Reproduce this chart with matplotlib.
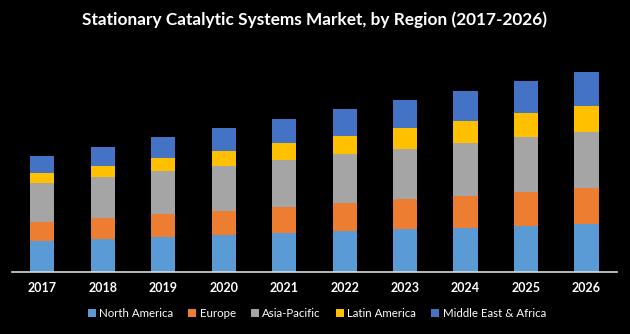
import matplotlib
matplotlib.use("Agg")
import matplotlib.pyplot as plt
import numpy as np

years = ['2017', '2018', '2019', '2020', '2021', '2022', '2023', '2024', '2025', '2026']
regions = ['North America', 'Europe', 'Asia-Pacific', 'Latin America', 'Middle East & Africa']
colors = ['#5B9BD5', '#ED7D31', '#A5A5A5', '#FFC000', '#4472C4']

# estimated segment heights
north_america = [31, 33, 35, 37, 39, 41, 43, 44.3, 46.3, 48.3]
europe = [19.3, 21, 23.3, 24, 26, 28, 30, 31.7, 33.7, 35.7]
asia_pacific = [38.7, 41, 42.7, 45, 47, 49, 50, 53, 55, 56]
latin_america = [10, 11, 13, 15, 17, 18, 21, 22, 24, 26]
middle_east_africa = [17, 19, 21, 23, 24, 27, 28, 30, 32, 34]

series = [north_america, europe, asia_pacific, latin_america, middle_east_africa]

plt.rcParams['font.family'] = ['Lato', 'DejaVu Sans']

fig = plt.figure(figsize=(6.3, 3.34), dpi=100, facecolor='black')
ax = fig.add_axes([0.019, 0.1856, 0.96, 0.635], facecolor='black')

x = np.arange(len(years))
bottom = np.zeros(len(years))
for name, vals, c in zip(regions, series, colors):
    ax.bar(x, vals, width=0.4, bottom=bottom, color=c, label=name, zorder=2)
    bottom += np.array(vals)

ax.set_xlim(-0.5, len(years) - 0.5)
ax.set_ylim(0, 212)
ax.set_yticks([])
ax.set_xticks(x)
ax.set_xticklabels(years, color='white', fontsize=9, fontweight='bold')
ax.tick_params(axis='x', length=0, pad=7)
for s in ['top', 'right', 'left']:
    ax.spines[s].set_visible(False)
ax.spines['bottom'].set_color('#D9D9D9')
ax.spines['bottom'].set_linewidth(1.2)

fig.suptitle('Stationary Catalytic Systems Market, by Region (2017-2026)',
             color='white', fontsize=12.4, fontweight='bold', y=0.965)

leg = fig.legend(loc='center', bbox_to_anchor=(0.503, 0.062), ncol=5, frameon=False,
                 fontsize=8.3, handlelength=0.7, handleheight=0.7, handletextpad=0.3,
                 columnspacing=1.3)
for t in leg.get_texts():
    t.set_color('white')

fig.savefig('out.png', dpi=100, facecolor='black')
